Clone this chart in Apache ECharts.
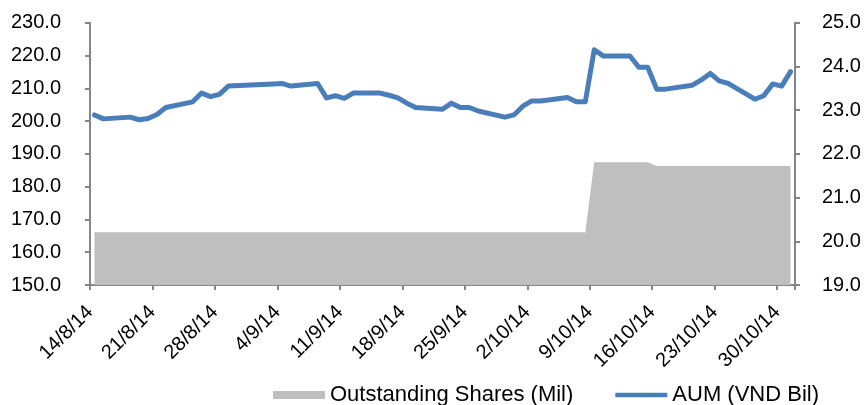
<!DOCTYPE html>
<html><head><meta charset="utf-8">
<script src="https://cdn.jsdelivr.net/npm/echarts@6/dist/echarts.min.js"></script>
<style>html,body{margin:0;padding:0;background:#fff}#c{width:868px;height:405px}</style>
</head><body><div id="c"></div>
<script>
const dates = ['14/8/14','15/8/14','18/8/14','19/8/14','20/8/14','21/8/14','22/8/14','25/8/14','26/8/14','27/8/14','28/8/14','29/8/14','3/9/14','4/9/14','5/9/14','8/9/14','9/9/14','10/9/14','11/9/14','12/9/14','15/9/14','16/9/14','17/9/14','18/9/14','19/9/14','22/9/14','23/9/14','24/9/14','25/9/14','26/9/14','29/9/14','30/9/14','1/10/14','2/10/14','3/10/14','6/10/14','7/10/14','8/10/14','9/10/14','10/10/14','13/10/14','14/10/14','15/10/14','16/10/14','17/10/14','20/10/14','21/10/14','22/10/14','23/10/14','24/10/14','27/10/14','28/10/14','29/10/14','30/10/14','31/10/14'];
const aum = [22.89,22.80,22.84,22.78,22.81,22.90,23.06,23.19,23.39,23.31,23.36,23.55,23.60,23.61,23.55,23.61,23.28,23.33,23.27,23.39,23.39,23.34,23.28,23.16,23.06,23.02,23.16,23.06,23.06,22.98,22.84,22.89,23.09,23.21,23.21,23.29,23.19,23.19,24.38,24.24,24.24,23.98,23.98,23.48,23.48,23.57,23.69,23.84,23.67,23.61,23.25,23.33,23.60,23.55,23.88];
const shares = [166.1,166.1,166.1,166.1,166.1,166.1,166.1,166.1,166.1,166.1,166.1,166.1,166.1,166.1,166.1,166.1,166.1,166.1,166.1,166.1,166.1,166.1,166.1,166.1,166.1,166.1,166.1,166.1,166.1,166.1,166.1,166.1,166.1,166.1,166.1,166.1,166.1,166.1,187.4,187.4,187.4,187.4,187.4,186.3,186.3,186.3,186.3,186.3,186.3,186.3,186.3,186.3,186.3,186.3,186.3];
const tickLabels = ['14/8/14','21/8/14','28/8/14','4/9/14','11/9/14','18/9/14','25/9/14','2/10/14','9/10/14','16/10/14','23/10/14','30/10/14'];
const leftTicks = {min:150, max:230, interval:10};
const rightTicks = {min:19, max:25, interval:1};

function toDay(s){const p=s.split('/');return Date.UTC(2000+ +p[2], +p[1]-1, +p[0]);}
const t0 = toDay(dates[0]);
const xs = dates.map(d => (toDay(d)-t0)/86400000 + 0.5);
const FONT = 'Liberation Sans, Arial, sans-serif';
const axisColor = '#868686';

const chart = echarts.init(document.getElementById('c'), null, {renderer:'canvas'});
chart.setOption({
  animation:false,
  grid:{left:90, right:73, top:22.7, bottom:120},
  legend:{
    left:273, top:384, padding:0, itemWidth:52, itemHeight:8, itemGap:42,
    textStyle:{fontFamily:FONT, fontSize:22, color:'#000'},
    data:[{name:'Outstanding Shares (Mil)', icon:'rect'},
          {name:'AUM (VND Bil)', icon:'path://M0,0H56V5H0Z', itemStyle:{color:'#4A7EBB'}}]
  },
  xAxis:{
    type:'value', min:0, max:79, interval:7,
    splitLine:{show:false},
    axisLine:{lineStyle:{color:axisColor, width:2}},
    axisTick:{length:5, lineStyle:{color:axisColor, width:2}},
    axisLabel:{
      rotate:45, margin:24, fontFamily:FONT, fontSize:20, color:'#000',
      formatter:v => (v % 7 === 0 && tickLabels[v/7]) ? tickLabels[v/7] : ''
    }
  },
  yAxis:[
    {type:'value', min:leftTicks.min, max:leftTicks.max, interval:leftTicks.interval, position:'left',
     splitLine:{show:false},
     axisLine:{show:true, lineStyle:{color:axisColor, width:2}},
     axisTick:{show:true, length:5, lineStyle:{color:axisColor, width:2}},
     axisLabel:{margin:29, fontFamily:FONT, fontSize:20, color:'#000', formatter:v=>v.toFixed(1)}},
    {type:'value', min:rightTicks.min, max:rightTicks.max, interval:rightTicks.interval, position:'right',
     splitLine:{show:false},
     axisLine:{show:true, lineStyle:{color:axisColor, width:2}},
     axisTick:{show:true, length:5, lineStyle:{color:axisColor, width:2}},
     axisLabel:{margin:27, fontFamily:FONT, fontSize:20, color:'#000', formatter:v=>v.toFixed(1)}}
  ],
  series:[
    {name:'Outstanding Shares (Mil)', type:'line', yAxisIndex:0, symbol:'none', color:'#BFBFBF',
     lineStyle:{width:0}, areaStyle:{color:'#BFBFBF', opacity:1, origin:'start'},
     data: xs.map((x,i)=>[x, shares[i]]), z:1},
    {name:'AUM (VND Bil)', type:'line', yAxisIndex:1, symbol:'none', color:'#4A7EBB',
     lineStyle:{width:5, color:'#4A7EBB', cap:'round', join:'round'},
     data: xs.map((x,i)=>[x, aum[i]]), z:3}
  ]
});
</script></body></html>
